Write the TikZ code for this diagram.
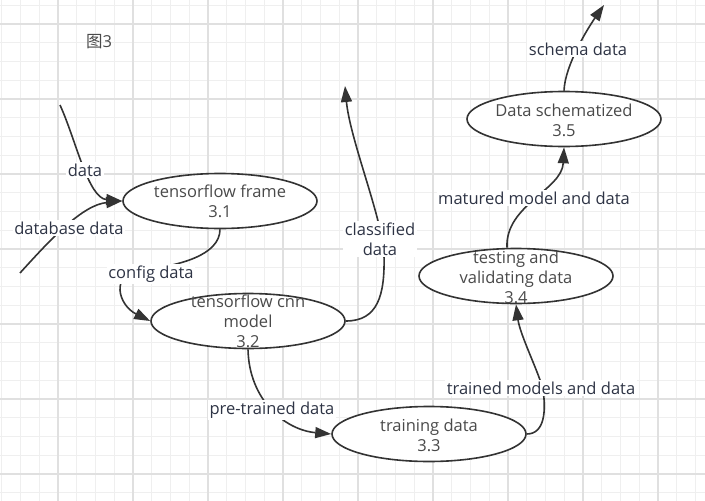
\documentclass[tikz,border=0pt]{standalone}
\usepackage{fontspec}
\setmainfont{Open Sans}
\newfontfamily\cjkfont{Noto Sans CJK SC}
\usepackage{tikz}
\usetikzlibrary{arrows.meta,shapes}
\definecolor{gridminor}{HTML}{EFEFEF}
\definecolor{gridmajor}{HTML}{E0E0E0}
\definecolor{flowline}{HTML}{333333}
\definecolor{nodetext}{HTML}{4A4A4A}
\definecolor{labeltext}{HTML}{2E3445}

\begin{document}
\begin{tikzpicture}[x=1pt, y=-1pt, inner sep=0pt, font=\fontsize{16.5}{20}\selectfont]
    \tikzstyle{proc}=[ellipse, draw=flowline, fill=white, line width=1.6pt, minimum width=194pt, minimum height=55pt]
    \tikzstyle{ptext}=[align=center, text=nodetext]
    \tikzstyle{flow}=[-{Triangle[length=16pt,width=11pt]}, draw=flowline, line width=1.6pt]
    \tikzstyle{flab}=[fill=white, text=labeltext, inner sep=1.5pt, align=center]

    \useasboundingbox (0,0) rectangle (705,501);

    % grid
    \foreach \gx in {1.75,20.5,...,700} \draw[gridminor, line width=0.8pt] (\gx,0) -- (\gx,501);
    \foreach \gy in {5.25,24,...,500} \draw[gridminor, line width=0.8pt] (0,\gy) -- (705,\gy);
    \foreach \gx in {58,133,...,658} \draw[gridmajor, line width=1.2pt] (\gx,0) -- (\gx,501);
    \foreach \gy in {24,99,...,474} \draw[gridmajor, line width=1.2pt] (0,\gy) -- (705,\gy);

    \node[text=nodetext] (title) at (99,42) {{\cjkfont 图}3};

    % processes
    \node[proc] (frame) at (220,201) {};
    \node[proc] (cnn) at (248,321) {};
    \node[proc] (train) at (429,434) {};
    \node[proc] (test) at (516,276) {};
    \node[proc] (schema) at (564,119) {};

    \node[ptext] (frametxt) at (220,201) {tensorflow frame\\3.1};
    \node[ptext] (cnntxt) at (248,321) {tensorflow cnn\\model\\3.2};
    \node[ptext] (traintxt) at (429,435) {training data\\3.3};
    \node[ptext] (testtxt) at (516,277) {testing and\\validating data\\3.4};
    \node[ptext] (schematxt) at (564,120) {Data schematized\\3.5};

    % free ends
    \coordinate (datain) at (60,105);
    \coordinate (dbin) at (20,273);
    \coordinate (classout) at (345,86);
    \coordinate (schemaout) at (604,5);

    % flows
    \draw[flow] (datain) .. controls (76,140) and (88,198) .. (frame.west);
    \draw[flow] (dbin) .. controls (50,240) and (82,205) .. (frame.west);
    \draw[flow] (frame.south) .. controls (220,255) and (180,266) .. (140,270)
        .. controls (110,274) and (118,305) .. (cnn.west);
    \draw[flow] (cnn.east) .. controls (378,321) and (385,295) .. (384,255)
        .. controls (383,220) and (350,140) .. (classout);
    \draw[flow] (cnn.south) .. controls (249,400) and (285,430) .. (train.west);
    \draw[flow] (train.east) .. controls (545,434) and (546,410) .. (543,390)
        .. controls (540,375) and (520,335) .. (test.south);
    \draw[flow] ([xshift=-9pt]test.north) .. controls (505,205) and (562,190) .. (schema.south);
    \draw[flow] (schema.north) .. controls (565,65) and (588,28) .. (schemaout);

    % labels
    \node[flab] (ldata) at (85,170) {data};
    \node[flab] (ldb) at (69,228) {database data};
    \node[flab] (lconfig) at (151,274) {config data};
    \node[flab] (lclass) at (380,239) {classified\\data};
    \node[flab] (lpre) at (272,410) {pre-trained data};
    \node[flab] (ltrained) at (541,388) {trained models and data};
    \node[flab] (lmatured) at (534,198) {matured model and data};
    \node[flab] (lschema) at (578,49) {schema data};
\end{tikzpicture}
\end{document}
